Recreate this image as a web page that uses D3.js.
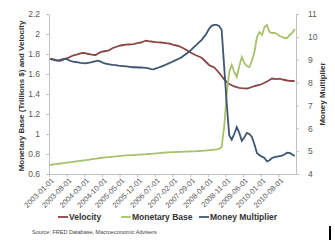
<!DOCTYPE html>
<html><head><meta charset="utf-8">
<script src="https://cdn.jsdelivr.net/npm/d3@7"></script>
<style>
html,body{margin:0;padding:0;background:#fff;}
svg{display:block;font-family:"Liberation Sans",Arial,sans-serif;}
</style></head>
<body><svg id="c" width="335" height="248"></svg>
<script>
const xLabels = ["2003-01-01","2003-08-01","2004-03-01","2004-10-01","2005-05-01","2005-12-01","2006-07-01","2007-02-01","2007-09-01","2008-04-01","2008-11-01","2009-06-01","2010-01-01","2010-08-01"];
const leftTicks = [0.6,0.8,1,1.2,1.4,1.6,1.8,2,2.2];
const rightTicks = [4,5,6,7,8,9,10,11];
const seriesNames = ["Velocity","Monetary Base","Money Multiplier"];

const velocity = [1.753,1.748,1.742,1.735,1.732,1.740,1.752,1.762,1.772,1.785,1.790,
1.798,1.806,1.812,1.808,1.800,1.797,1.792,1.790,1.805,1.818,
1.825,1.830,1.834,1.848,1.862,1.870,1.878,1.885,1.890,1.893,
1.895,1.897,1.899,1.905,1.912,1.915,1.925,1.933,1.928,1.925,
1.922,1.918,1.917,1.915,1.912,1.908,1.905,1.898,1.890,1.885,
1.880,1.868,1.855,1.840,1.825,1.810,1.798,1.785,1.775,1.762,
1.740,1.715,1.690,1.676,1.668,1.640,1.612,1.580,1.545,1.520,
1.500,1.488,1.476,1.468,1.462,1.458,1.457,1.455,1.462,1.470,
1.478,1.485,1.490,1.500,1.512,1.525,1.540,1.555,1.552,1.548,
1.553,1.545,1.540,1.535,1.532,1.530,1.528];

const monetaryBase = [0.690,0.695,0.698,0.702,0.705,0.708,0.712,0.715,0.718,0.722,0.726,
0.729,0.732,0.735,0.738,0.742,0.746,0.750,0.753,0.757,0.760,
0.763,0.766,0.768,0.771,0.774,0.776,0.779,0.781,0.783,0.786,
0.787,0.789,0.790,0.792,0.794,0.795,0.797,0.798,0.800,0.802,
0.804,0.806,0.808,0.810,0.813,0.815,0.817,0.818,0.819,0.820,
0.821,0.822,0.823,0.824,0.825,0.826,0.827,0.828,0.830,0.831,
0.833,0.835,0.838,0.840,0.843,0.846,0.852,0.870,1.070,1.400,
1.620,1.690,1.620,1.570,1.680,1.770,1.710,1.680,1.670,1.730,
1.820,1.970,2.020,1.990,2.070,2.090,2.020,2.010,2.010,2.000,
1.980,1.970,1.960,1.960,1.990,2.010,2.050];

const moneyMultiplier = [9.04,9.00,8.97,8.96,8.99,9.03,9.05,9.00,8.95,8.92,8.90,
8.88,8.86,8.85,8.84,8.86,8.88,8.91,8.94,8.96,8.92,
8.86,8.83,8.81,8.79,8.77,8.76,8.74,8.73,8.72,8.71,
8.70,8.68,8.67,8.67,8.66,8.66,8.65,8.64,8.62,8.59,
8.58,8.62,8.66,8.70,8.74,8.79,8.84,8.89,8.94,8.99,
9.04,9.10,9.18,9.26,9.34,9.44,9.55,9.65,9.76,9.86,
10.00,10.15,10.35,10.48,10.52,10.52,10.48,10.30,8.70,7.10,
5.70,5.50,5.75,6.05,5.80,5.45,5.60,5.80,5.75,5.62,
5.30,4.92,4.82,4.76,4.70,4.55,4.60,4.70,4.74,4.76,
4.78,4.80,4.86,4.93,4.92,4.85,4.79];

const colors = {velocity:"#8a4545", base:"#a8c26a", mult:"#3f5672"};
const N = velocity.length; // 98 monthly points
const svg = d3.select("#c");
const X0=49, X1=296, Y0=14, Y1=174;
const x = d3.scaleLinear().domain([0, N]).range([X0, X1]);
const yL = d3.scaleLinear().domain([0.6, 2.2]).range([Y1, Y0]);
const yR = d3.scaleLinear().domain([4, 11]).range([Y1, Y0]);
const fmt = d => String(+d.toFixed(1));

function styleAxis(g){
  g.selectAll(".domain").attr("stroke","#bfbfbf");
  g.selectAll(".tick line").attr("stroke","#bfbfbf");
  g.selectAll("text").attr("fill","#595959").attr("font-size","8.5px");
}

svg.append("g").attr("transform",`translate(${X0},0)`)
  .call(d3.axisLeft(yL).tickValues(leftTicks).tickFormat(fmt).tickSize(3).tickSizeOuter(0).tickPadding(6))
  .call(styleAxis);
svg.append("g").attr("transform",`translate(${X1},0)`)
  .call(d3.axisRight(yR).tickValues(rightTicks).tickFormat(d=>d).tickSize(3).tickSizeOuter(0).tickPadding(9))
  .call(styleAxis);
const xa = svg.append("g").attr("transform",`translate(0,${Y1})`)
  .call(d3.axisBottom(x).tickValues(d3.range(0, 92, 7)).tickFormat((d,i)=>xLabels[i]).tickSize(3).tickSizeOuter(0))
  .call(styleAxis);
xa.selectAll(".tick text").attr("font-size","7.5px").attr("text-anchor","end")
  .attr("dy",null).attr("y",null).attr("x",null)
  .attr("transform","translate(5,7) rotate(-45)");

const line = (ys) => d3.line().x((d,i)=>x(i+0.5)).y(d=>ys(d)).curve(d3.curveLinear);
svg.append("path").datum(velocity).attr("d", line(yL)).attr("fill","none").attr("stroke",colors.velocity).attr("stroke-width",1.8);
svg.append("path").datum(monetaryBase).attr("d", line(yL)).attr("fill","none").attr("stroke",colors.base).attr("stroke-width",1.8);
svg.append("path").datum(moneyMultiplier).attr("d", line(yR)).attr("fill","none").attr("stroke",colors.mult).attr("stroke-width",1.8);

svg.append("text").attr("transform",`translate(24,${(Y0+Y1)/2+2}) rotate(-90)`)
  .attr("text-anchor","middle").attr("font-size","8px").attr("font-weight","bold").attr("fill","#333")
  .text("Monetary Base (Trillions $) and Velocity");
svg.append("text").attr("transform",`translate(325,${(Y0+Y1)/2}) rotate(-90)`)
  .attr("text-anchor","middle").attr("font-size","8px").attr("font-weight","bold").attr("fill","#333")
  .text("Money Multiplier");

const legend = [{n:seriesNames[0],c:colors.velocity,x:58},{n:seriesNames[1],c:colors.base,x:121},{n:seriesNames[2],c:colors.mult,x:199}];
const lg = svg.append("g").attr("transform","translate(0,217)");
legend.forEach(l=>{
  lg.append("line").attr("x1",l.x).attr("x2",l.x+10).attr("y1",0).attr("y2",0).attr("stroke",l.c).attr("stroke-width",1.8);
  lg.append("text").attr("x",l.x+11).attr("y",3.2).attr("font-size","8.5px").attr("font-weight","bold").attr("fill","#333").text(l.n);
});
svg.append("text").attr("x",32).attr("y",234).attr("font-size","5.5px").attr("fill","#444")
  .text("Source: FRED Database, Macroeconomic Advisers");
svg.append("rect").attr("x",329).attr("y",226).attr("width",2).attr("height",14).attr("fill","#000");
</script></body></html>
